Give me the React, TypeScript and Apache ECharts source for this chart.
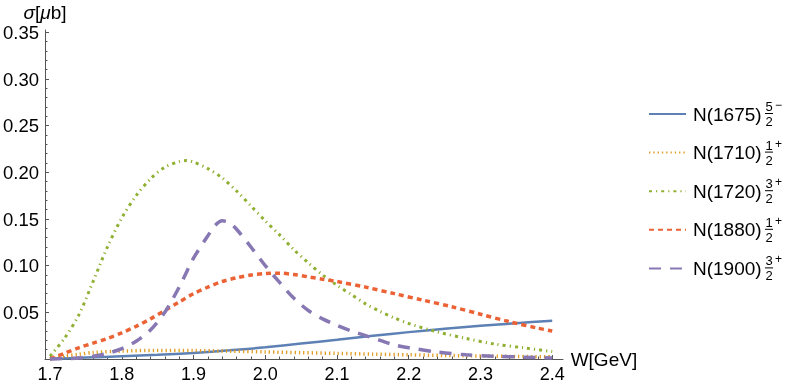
import React, { useEffect, useRef } from "react";
import * as echarts from "echarts";

// ---------- data ----------
const names = ["N(1675)", "N(1710)", "N(1720)", "N(1880)", "N(1900)"];
const fracNum = ["5", "1", "3", "1", "3"];
const fracDen = ["2", "2", "2", "2", "2"];
const fracSign = ["\u2212", "+", "+", "+", "+"];
const colors = ["#5E81B5", "#E19C24", "#8FB032", "#EB6235", "#8778B3"];

const xTicks = [1.7, 1.8, 1.9, 2.0, 2.1, 2.2, 2.3, 2.4];
const yTicks = [0.05, 0.1, 0.15, 0.2, 0.25, 0.3, 0.35];

const blueW = [1.7, 1.75, 1.8, 1.85, 1.9, 1.95, 2.0, 2.05, 2.1, 2.15, 2.2, 2.25, 2.3, 2.35, 2.4];
const blueS = [0.0, 0.0015, 0.003, 0.0045, 0.0065, 0.0093, 0.0125, 0.0165, 0.0205, 0.0248, 0.0288, 0.0323, 0.0355, 0.0384, 0.041];

const orangeW = [1.7, 1.72, 1.74, 1.76, 1.8, 1.85, 1.9, 1.95, 2.0, 2.05, 2.1, 2.15, 2.2, 2.25, 2.3, 2.35, 2.4];
const orangeS = [0.0, 0.003, 0.005, 0.007, 0.0085, 0.0092, 0.009, 0.0084, 0.0076, 0.0068, 0.006, 0.0052, 0.0045, 0.0038, 0.0032, 0.0027, 0.0023];

const greenW = [1.7, 1.72, 1.74, 1.76, 1.78, 1.8, 1.82, 1.84, 1.86, 1.88, 1.89, 1.9, 1.92, 1.94, 1.96, 1.98, 2.0, 2.02, 2.04, 2.06, 2.08, 2.1, 2.12, 2.14, 2.16, 2.18, 2.2, 2.24, 2.28, 2.32, 2.36, 2.4];
const greenS = [0.003, 0.022, 0.047, 0.083, 0.12, 0.151, 0.175, 0.193, 0.2055, 0.2115, 0.2126, 0.211, 0.204, 0.194, 0.18, 0.164, 0.148, 0.133, 0.117, 0.103, 0.09, 0.079, 0.069, 0.059, 0.051, 0.044, 0.038, 0.029, 0.022, 0.016, 0.012, 0.008];

const redW = [1.7, 1.72, 1.74, 1.76, 1.78, 1.8, 1.82, 1.84, 1.86, 1.88, 1.9, 1.92, 1.94, 1.96, 1.98, 2.0, 2.02, 2.04, 2.06, 2.08, 2.1, 2.14, 2.18, 2.22, 2.26, 2.3, 2.34, 2.38, 2.4];
const redS = [0.0, 0.006, 0.012, 0.017, 0.022, 0.028, 0.035, 0.043, 0.052, 0.061, 0.07, 0.077, 0.083, 0.087, 0.09, 0.0915, 0.092, 0.0905, 0.088, 0.0855, 0.083, 0.077, 0.07, 0.063, 0.056, 0.048, 0.04, 0.033, 0.03];

const purpleW = [1.7, 1.72, 1.74, 1.76, 1.78, 1.8, 1.82, 1.84, 1.86, 1.88, 1.9, 1.92, 1.93, 1.94, 1.95, 1.96, 1.98, 2.0, 2.02, 2.04, 2.06, 2.08, 2.1, 2.12, 2.14, 2.16, 2.18, 2.2, 2.24, 2.28, 2.32, 2.36, 2.4];
const purpleS = [0.0, 0.0005, 0.001, 0.003, 0.006, 0.011, 0.019, 0.031, 0.05, 0.077, 0.108, 0.132, 0.143, 0.148, 0.146, 0.139, 0.12, 0.1, 0.082, 0.065, 0.052, 0.043, 0.036, 0.03, 0.025, 0.02, 0.015, 0.012, 0.0075, 0.0045, 0.003, 0.002, 0.001];

const seriesW = [blueW, orangeW, greenW, redW, purpleW];
const seriesS = [blueS, orangeS, greenS, redS, purpleS];
const lineStyles = [
  { width: 2.5, type: "solid" as any },
  { width: 3.5, type: [1.3, 3] as any, cap: "butt" },
  { width: 3, type: [3, 4, 1.2, 4] as any, cap: "butt" },
  { width: 3.5, type: [5, 4] as any, cap: "butt" },
  { width: 3.5, type: [12, 9] as any, cap: "butt" },
];

const FONT = "Liberation Sans, Arial, sans-serif";

export default function App() {
  const ref = useRef<HTMLDivElement>(null);
  useEffect(() => {
    if (!ref.current) return;
    const chart = echarts.init(ref.current, undefined, { renderer: "svg" });

    const xMinor: number[] = [];
    for (let i = 0; i < xTicks.length - 1; i++) {
      for (let k = 1; k < 5; k++) xMinor.push(+(xTicks[i] + k * 0.02).toFixed(3));
    }
    const yMinor: number[] = [];
    const yAll = [0, ...yTicks];
    for (let i = 0; i < yAll.length - 1; i++) {
      for (let k = 1; k < 5; k++) yMinor.push(+(yAll[i] + k * 0.01).toFixed(3));
    }

    const axisColor = "#555";
    const rowY = (i: number) => 114 + i * 38.6;
    const graphic: any[] = [];
    names.forEach((_, i) => {
      const cy = rowY(i);
      graphic.push(
        { type: "text", x: 769, y: cy - 1, style: { text: fracNum[i], font: `13px ${FONT}`, fill: "#000", align: "center", verticalAlign: "bottom" } },
        { type: "line", shape: { x1: 765, y1: cy - 0.5, x2: 773, y2: cy - 0.5 }, style: { stroke: "#000", lineWidth: 1 } },
        { type: "text", x: 769, y: cy + 1, style: { text: fracDen[i], font: `13px ${FONT}`, fill: "#000", align: "center", verticalAlign: "top" } },
        { type: "text", x: 775, y: cy - 9, style: { text: fracSign[i], font: `12px ${FONT}`, fill: "#000", align: "left", verticalAlign: "middle" } }
      );
    });

    chart.setOption({
      animation: false,
      grid: { left: 42, right: 234, top: 30, bottom: 27 },
      xAxis: [
        {
          type: "value",
          min: 1.693,
          max: 2.415,
          position: "bottom",
          name: "W[GeV]",
          nameLocation: "end",
          nameGap: 7,
          nameTextStyle: { fontSize: 19, fontFamily: FONT, color: "#000" },
          axisLine: { show: true, onZero: false, lineStyle: { color: axisColor, width: 1 } },
          axisTick: { show: true, inside: true, length: 4, customValues: xTicks, lineStyle: { color: axisColor } },
          axisLabel: { customValues: xTicks, fontSize: 18, fontFamily: FONT, color: "#000", margin: 6, formatter: (v: number) => v.toFixed(1) },
          splitLine: { show: false },
        },
        {
          type: "value",
          min: 1.693,
          max: 2.415,
          position: "bottom",
          offset: 0,
          axisLine: { show: false },
          axisTick: { show: true, inside: true, length: 2.5, customValues: xMinor, lineStyle: { color: axisColor } },
          axisLabel: { show: false },
          splitLine: { show: false },
        },
      ],
      yAxis: [
        {
          type: "value",
          min: 0,
          max: 0.3525,
          position: "left",
          name: "{i|\u03c3}[{i|\u03bc}b]",
          nameLocation: "end",
          nameGap: 8,
          nameTextStyle: {
            fontSize: 19, fontFamily: FONT, color: "#000", align: "center",
            rich: { i: { fontSize: 19, fontFamily: FONT, fontStyle: "italic", color: "#000" } },
          },
          axisLine: { show: true, onZero: false, lineStyle: { color: axisColor, width: 1 } },
          axisTick: { show: true, inside: true, length: 4, customValues: yTicks, lineStyle: { color: axisColor } },
          axisLabel: { customValues: yTicks, fontSize: 18.5, fontFamily: FONT, color: "#000", margin: 6, formatter: (v: number) => v.toFixed(2) },
          splitLine: { show: false },
        },
        {
          type: "value",
          min: 0,
          max: 0.3525,
          position: "left",
          offset: 0,
          axisLine: { show: false },
          axisTick: { show: true, inside: true, length: 2.5, customValues: yMinor, lineStyle: { color: axisColor } },
          axisLabel: { show: false },
          splitLine: { show: false },
        },
      ],
      legend: {
        orient: "vertical",
        left: 648,
        top: 104,
        itemWidth: 37,
        itemHeight: 20,
        itemGap: 18.6,
        padding: 0,
        data: names,
        itemStyle: { opacity: 0, borderWidth: 0 },
        textStyle: { fontSize: 19, fontFamily: FONT, color: "#000", lineHeight: 20, padding: [0, 0, 0, 2] },
        selectedMode: false,
      },
      graphic,
      series: names.map((n, i) => ({
        name: n,
        type: "line",
        xAxisIndex: 0,
        yAxisIndex: 0,
        data: seriesW[i].map((w, j) => [w, seriesS[i][j]]),
        symbol: "none",
        smooth: 0.3,
        clip: false,
        color: colors[i],
        lineStyle: { color: colors[i], ...lineStyles[i] },
      })),
    });
    return () => chart.dispose();
  }, []);
  return <div ref={ref} style={{ position: "fixed", left: 0, top: 0, width: 797, height: 386 }} />;
}
